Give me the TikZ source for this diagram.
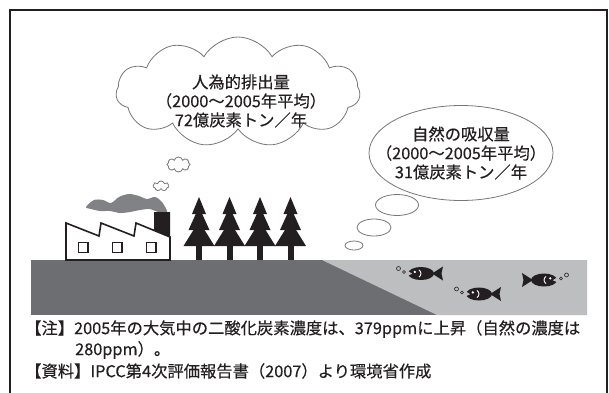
\documentclass[tikz,border=0pt]{standalone}
\usepackage{fontspec}
\newfontfamily\jp[FakeBold=0.35]{Noto Sans CJK JP}
\usetikzlibrary{shapes.geometric,shapes.symbols}
\definecolor{ink}{HTML}{231F20}
\definecolor{soil}{HTML}{6D6E71}
\definecolor{sea}{HTML}{BCBEC0}
\definecolor{smoke}{HTML}{808285}
\definecolor{outline}{HTML}{76777A}

\begin{document}
\begin{tikzpicture}[x=1pt,y=-1pt,
  label text/.style={font=\jp\fontsize{16.3}{19}\selectfont, text=ink, align=center, inner sep=0},
  note text/.style={font=\jp\fontsize{16.3}{21}\selectfont, text=ink, anchor=west, inner sep=0},
  thought/.style={draw=outline, line width=0.8pt, fill=white, inner sep=0},
  fish/.pic={
    \fill[ink] (13,0) ellipse (13 and 6.5);
    \fill[ink] (24,0) -- (35,-7) -- (33.5,0) -- (35,7) -- cycle;
    \fill[sea] (-0.5,-2.8) -- (4.2,0.2) -- (-0.5,2.4) -- cycle;
    \fill[white] (6.8,-1.6) circle (1.3);
    \draw[white, line width=0.9pt] (11,-3.6) .. controls (13.6,-1.5) and (13.6,1.5) .. (11,3.6);
    \draw[ink, line width=0.6pt] (-4,-1.5) circle (1.5) (-9.5,-5) circle (2);
  },
]
\useasboundingbox (0,0) rectangle (609,392);
\fill[white] (0,0) rectangle (609,392);

% frame, open at the bottom
\draw[ink, line width=2.5pt, line join=miter] (10,393) -- (10,10) -- (607,10) -- (607,393);

% land and sea
\fill[soil] (31,260) rectangle (587,315);
\fill[sea] (322,260) -- (587,260) -- (587,315) -- (437,315) -- cycle;

% thought cloud of emissions
\node[cloud, cloud puffs=11, cloud puff arc=120, aspect=2.3, thought,
      minimum width=244pt, minimum height=110pt] (emission) at (238,92) {};
\node[label text] (emissiontext) at (241,101)
  {人為的排出量\\（2000～2005年平均）\\72億炭素トン／年};
\node[cloud, cloud puffs=8, aspect=1.6, thought,
      minimum width=23pt, minimum height=15pt] (puffa) at (178.5,164.5) {};
\node[cloud, cloud puffs=7, aspect=1.6, thought,
      minimum width=16pt, minimum height=10pt] (puffb) at (161,186) {};

% thought ellipse of absorption
\node[ellipse, thought, minimum width=184pt, minimum height=95pt] (uptake) at (461,153) {};
\node[label text] (uptaketext) at (461,153)
  {自然の吸収量\\（2000～2005年平均）\\31億炭素トン／年};
\node[ellipse, thought, minimum width=43pt, minimum height=21pt] (dropa) at (397,205) {};
\node[ellipse, thought, minimum width=34pt, minimum height=17pt] (dropb) at (374,227.5) {};
\node[ellipse, thought, minimum width=18pt, minimum height=9pt] (dropc) at (354,245.5) {};

% smoke
\fill[smoke] plot[smooth cycle] coordinates {
  (86,207) (94,200) (103,200) (111,203) (119,197) (129,194) (139,196)
  (147,199) (155,197) (162,202) (167,212) (158,212) (150,209) (140,210)
  (130,212) (120,213) (110,211) (100,211) (91,209)};

% factory
\draw[ink, line width=1.6pt, fill=white, line join=miter]
  (66,260) -- (66,223) -- (99,236) -- (101,223) -- (134,236) -- (136,223)
  -- (170,237) -- (170,260) -- cycle;
\fill[ink] (154,212) -- (170,212) -- (170,237) -- (154,230.4) -- cycle;
\foreach \wx in {78.5,112.5,146.5}
  \draw[ink, line width=1.8pt, fill=white] (\wx,242.5) rectangle ({\wx+9.5},252.5);

% trees
\foreach \cx in {199,229.5,260,290.5}{
  \fill[ink] ({\cx-3},245) rectangle ({\cx+3},260);
  \fill[ink] ({\cx-15.5},246) -- (\cx,221) -- ({\cx+15.5},246) -- cycle;
  \fill[ink] ({\cx-10.5},230) -- (\cx,207) -- ({\cx+10.5},230) -- cycle;
  \fill[ink] ({\cx-7},214) -- (\cx,197) -- ({\cx+7},214) -- cycle;
}

% fish
\pic at (408,273.5) {fish};
\pic at (466,294) {fish};
\pic[xscale=-1] at (557,280) {fish};

% notes
\node[note text] (note) at (25,329)
  {【注】2005年の大気中の二酸化炭素濃度は、379ppmに上昇（自然の濃度は};
\node[note text] (note2) at (75,350) {280ppm）。};
\node[note text] (source) at (25,371)
  {【資料】IPCC第4次評価報告書（2007）より環境省作成};
\end{tikzpicture}
\end{document}
